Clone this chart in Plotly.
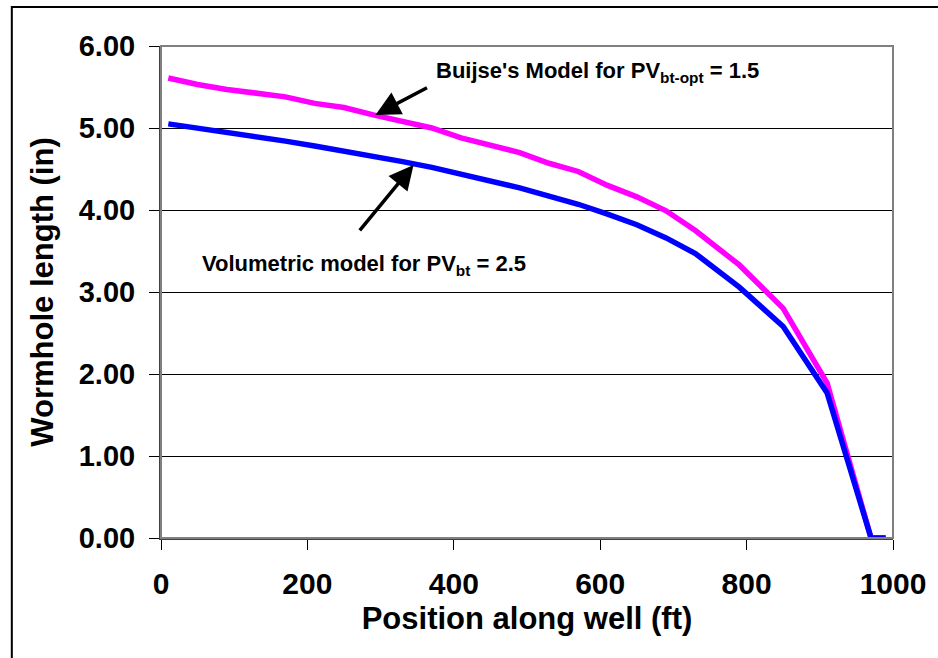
import plotly.graph_objects as go

# Position along well (ft)
position = [10, 50, 90, 130, 170, 210, 250, 290, 330, 370, 410, 450, 490,
            530, 570, 610, 650, 690, 730, 790, 850, 910, 970, 990]
# Volumetric model for PVbt = 2.5 (in)
volumetric = [5.05, 5.00, 4.95, 4.89, 4.84, 4.78, 4.72, 4.66, 4.59, 4.52, 4.44, 4.36, 4.27,
              4.17, 4.07, 3.95, 3.82, 3.66, 3.47, 3.06, 2.58, 1.77, 0.00, 0.00]
# Buijse's model for PVbt-opt = 1.5 (in)
buijse = [5.61, 5.53, 5.47, 5.43, 5.38, 5.30, 5.25, 5.16, 5.08, 5.00, 4.88, 4.79, 4.70,
          4.57, 4.47, 4.30, 4.16, 3.99, 3.75, 3.33, 2.80, 1.89, 0.00, 0.00]

x_ticks = [0, 200, 400, 600, 800, 1000]
y_ticks = [0, 1, 2, 3, 4, 5, 6]

FONT = "Liberation Sans, Arial, sans-serif"

fig = go.Figure()
fig.add_trace(go.Scatter(x=position, y=buijse, mode="lines",
                         line=dict(color="#FF00FF", width=5.5), name="Buijse"))
fig.add_trace(go.Scatter(x=position, y=volumetric, mode="lines",
                         line=dict(color="#0000FF", width=5.5), name="Volumetric"))

L, R, T, B = 161, 41, 46, 120
W, H = 938, 658
pw = W - L - R
ph = H - T - B

def px_x(p):
    return (p - L) / pw

def px_y(p):
    return (H - B - p) / ph

fig.update_layout(
    width=W, height=H,
    margin=dict(l=L, r=R, t=T, b=B),
    paper_bgcolor="white", plot_bgcolor="white",
    showlegend=False,
    font=dict(family=FONT, color="black"),
    xaxis=dict(range=[0, 1000], tickvals=x_ticks, ticktext=[str(v) for v in x_ticks],
               ticks="outside", ticklen=10, tickcolor="black", tickwidth=1,
               ticklabelstandoff=8,
               showline=True, linecolor="#404040", linewidth=2,
               showgrid=False, zeroline=False,
               tickfont=dict(family=FONT, size=30, weight="bold"),
               title=dict(text="Position along well (ft)",
                          font=dict(family=FONT, size=31, weight="bold"), standoff=8)),
    yaxis=dict(range=[0, 6], tickvals=y_ticks, tickformat=".2f",
               ticks="outside", ticklen=10, tickcolor="black", tickwidth=1,
               ticklabelstandoff=8,
               showline=True, linecolor="#404040", linewidth=2,
               showgrid=True, gridcolor="black", gridwidth=1,
               zeroline=False,
               tickfont=dict(family=FONT, size=29, weight="bold"),
               title=dict(text="Wormhole length (in)",
                          font=dict(family=FONT, size=31, weight="bold"), standoff=16)),
)

# plot area border (gray, top and right)
fig.add_shape(type="rect", xref="paper", yref="paper", x0=0, y0=0, x1=1, y1=1,
              line=dict(color="#808080", width=2), layer="above")
# outer chart border
fig.add_shape(type="rect", xref="paper", yref="paper",
              x0=px_x(11), y0=px_y(680), x1=px_x(960), y1=px_y(7),
              line=dict(color="black", width=2))

# annotations
fig.add_annotation(x=373, y=5.68, xref="x", yref="y", xanchor="left", yanchor="middle",
                   text="Buijse's Model for PV<sub>bt-opt</sub> = 1.5", showarrow=False,
                   font=dict(family=FONT, size=22, weight="bold", color="black"))
fig.add_annotation(x=53, y=3.33, xref="x", yref="y", xanchor="left", yanchor="middle",
                   text="Volumetric model for PV<sub>bt</sub> = 2.5", showarrow=False,
                   font=dict(family=FONT, size=22, weight="bold", color="black"))
fig.add_annotation(x=293, y=5.16, xref="x", yref="y", text="", showarrow=True,
                   ax=53, ay=-28, arrowhead=2, arrowsize=1.4, arrowwidth=3.5, arrowcolor="black")
fig.add_annotation(x=345, y=4.55, xref="x", yref="y", text="", showarrow=True,
                   ax=-55, ay=67, arrowhead=2, arrowsize=1.4, arrowwidth=3.5, arrowcolor="black")

fig.write_html("out.html")
